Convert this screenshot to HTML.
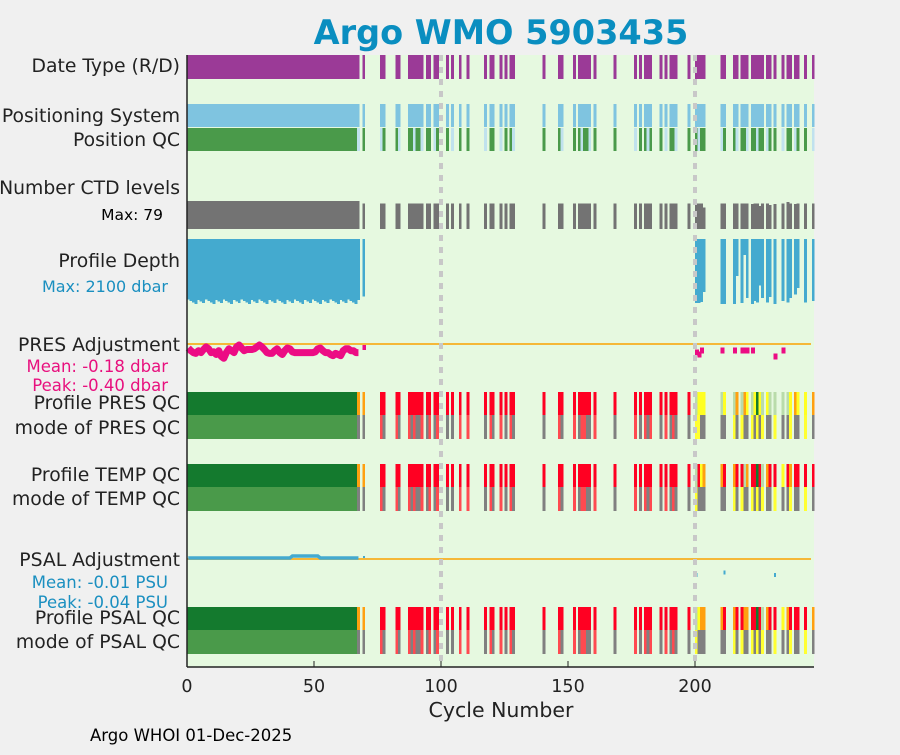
<!DOCTYPE html>
<html><head><meta charset="utf-8"><style>
body{margin:0;background:#f0f0f0;font-family:"Liberation Sans","DejaVu Sans",sans-serif}
svg text{font-family:"DejaVu Sans","Liberation Sans",sans-serif}
</style></head><body>
<svg id="c" width="900" height="750" xmlns="http://www.w3.org/2000/svg">
<rect x="0" y="0" width="900" height="750" fill="#f0f0f0"/>
<rect x="187" y="55" width="627" height="612" fill="#e6f9e0"/>
<g id="marks" shape-rendering="crispEdges"></g>
<g id="lines"></g>
<text x="501" y="44" text-anchor="middle" font-size="33.5" font-weight="bold" fill="#0a8ec0">Argo WMO 5903435</text>
<g font-size="18.8" fill="#222" text-anchor="end">
<text x="180" y="72">Date Type (R/D)</text>
<text x="180" y="122">Positioning System</text>
<text x="180" y="146">Position QC</text>
<text x="180" y="194">Number CTD levels</text>
<text x="163" y="220" font-size="15.5" fill="#000">Max: 79</text>
<text x="180" y="267">Profile Depth</text>
<text x="168" y="292" font-size="16" fill="#1a8fc0">Max: 2100 dbar</text>
<text x="180" y="351">PRES Adjustment</text>
<text x="168" y="372" font-size="16.5" fill="#e8107e">Mean: -0.18 dbar</text>
<text x="168" y="391" font-size="16.5" fill="#e8107e">Peak: -0.40 dbar</text>
<text x="180" y="409">Profile PRES QC</text>
<text x="180" y="434">mode of PRES QC</text>
<text x="180" y="481">Profile TEMP QC</text>
<text x="180" y="505">mode of TEMP QC</text>
<text x="180" y="566">PSAL Adjustment</text>
<text x="168" y="588" font-size="16.5" fill="#1a8fc0">Mean: -0.01 PSU</text>
<text x="168" y="608" font-size="16.5" fill="#1a8fc0">Peak: -0.04 PSU</text>
<text x="180" y="624">Profile PSAL QC</text>
<text x="180" y="648">mode of PSAL QC</text>
</g>
<line x1="187" y1="55" x2="187" y2="667" stroke="#222" stroke-width="1.5"/>
<line x1="187" y1="667" x2="814" y2="667" stroke="#222" stroke-width="1.5"/>
<g id="xticks"></g>
<text x="501" y="717" text-anchor="middle" font-size="20.5" fill="#222">Cycle Number</text>
<text x="90" y="741" font-size="16.5" fill="#000">Argo WHOI 01-Dec-2025</text>
</svg>
<script>
const extraCycles=[69,76,77,82,83,87,88,89,90,91,92,94,95,97,98,102,104,107,110,117,119,120,123,125,127,128,140,146,147,152,154,155,156,157,158,160,168,176,178,180,181,182,186,188,190,191,192,197,200,201,202,203,210,211,215,216,218,219,220,222,223,224,225,226,228,229,231,234,236,237,239,240,243,246];
const presQC ="DFFFFFFFFFFFFFFFFFFFFFFFFFFFFFFFFFFFFFFFFFFFFFFF"+"BCCCBCBDBDCBCACBCBBBBCDCCD";
const presMode="94949494994949499449494949949494499494949494949"+"9"+"33999939399393939939939939";
const tempQC ="DFFFFFFFFFFFFFFFFFFFFFFFFFFFFFFFFFFFFFFFFFFFFFFF"+"BFCDDFDFFBDFFAFBDFFCFDFFFF";
const tempMode="94949494994949499449494949949494499494949494949"+"9"+"39999939399393939939939939";
const psalQC ="DFFFFFFFFFFFFFFFFFFFFFFFFFFFFFFFFFFFFFFFFFFFFFFF"+"BCDDDFDFFDDFFAFBDFFCDFFFFD";
const psalMode="94949494994949499449494949949494499494949494949"+"9"+"39999939399393939939939939";
const depthCycles=[69,200,201,202,203,210,211,215,216,218,219,220,222,223,224,225,226,228,229,231,234,236,237,239,240,243,246];
const depthVals=[1850,2070,2070,2040,1710,2100,2100,2100,1200,2070,520,1900,2100,2000,2050,1500,1900,2050,1880,2100,2000,2050,1900,1800,1580,2050,2000];
const ctdLate=[72,72,72,60,72,72,72,72,72,72,72,70,72,72,65,72,72,68,70,72,76,72,70,72,72,72,72];
const presAdj=[-0.08,-0.15,-0.2,-0.22,-0.15,-0.2,-0.12,-0.05,-0.1,-0.2,-0.18,-0.25,-0.15,-0.3,-0.35,-0.2,-0.1,-0.15,-0.2,-0.05,0.0,-0.08,-0.15,-0.12,-0.12,-0.12,-0.1,-0.05,0.0,-0.05,-0.12,-0.2,-0.22,-0.22,-0.15,-0.1,-0.2,-0.25,-0.15,-0.08,-0.1,-0.18,-0.2,-0.2,-0.2,-0.2,-0.2,-0.2,-0.2,-0.2,-0.18,-0.1,-0.08,-0.15,-0.2,-0.2,-0.25,-0.28,-0.22,-0.25,-0.28,-0.15,-0.1,-0.1,-0.15,-0.15,-0.2,-0.2];
const presLateCycles=[69,200,201,202,210,215,218,219,220,222,231,234];
const presLateVals=[-0.05,-0.2,-0.25,-0.15,-0.15,-0.15,-0.15,-0.15,-0.15,-0.15,-0.3,-0.15];
const psalLateCycles=[69,200,211,231];
const psalLateVals=[0.0,-0.04,-0.035,-0.04];
const xTicks=[0,50,100,150,200];

const NS="http://www.w3.org/2000/svg";
const g=document.getElementById('marks');
const gl=document.getElementById('lines');
const X=c=>187+2.54*c;
const W=2.9;
function rect(x,y,w,h,fill,name){const r=document.createElementNS(NS,'rect');
r.setAttribute('x',x);r.setAttribute('y',y);r.setAttribute('width',w);r.setAttribute('height',h);r.setAttribute('fill',fill);


g.appendChild(r);return r;}
const qcCol={A:'#147a2e',B:'#b9dcaa',C:'#ffff22',D:'#ffa010',E:'#ffa010',F:'#ff0022'};
const modeCol={'1':'#4a9a4a','3':'#ffff30','4':'#ff4a50','9':'#808080'};
const firstBlock=[];for(let c=0;c<67;c++)firstBlock.push(c);
const blockW=X(67)-X(0);
rect(X(0),55,X(68)-X(0),24,'#9b3a97','date-type-block');
rect(X(0),104,X(68)-X(0),23,'#7fc4e0','positioning-block');
rect(X(0),128,blockW,23,'#4a9a4a','position-qc-block');
rect(X(67),128,W,23,'#c0e2ee','position-qc-bar');
rect(X(0),201,X(68)-X(0),28,'#737373','ctd-block');
rect(X(0),392,blockW,23,'#147a2e','pres-qc-block');rect(X(0),415,blockW,24,'#4a9a4a','pres-mode-block');
rect(X(0),464,blockW,23,'#147a2e','temp-qc-block');rect(X(0),487,blockW,24,'#4a9a4a','temp-mode-block');
rect(X(0),607,blockW,23,'#147a2e','psal-qc-block');rect(X(0),630,blockW,24,'#4a9a4a','psal-mode-block');
rect(X(67),392,W,23,'#ffa010','pres-qc-bar');rect(X(67),415,W,24,'#808080','pres-mode-bar');
rect(X(67),464,W,23,'#ffa010','temp-qc-bar');rect(X(67),487,W,24,'#808080','temp-mode-bar');
rect(X(67),607,W,23,'#ffa010','psal-qc-bar');rect(X(67),630,W,24,'#808080','psal-mode-bar');
rect(X(0),239,X(68)-X(0),58,'#44aacf','depth-block');
for(let c=0;c<68;c++){
  const d=1950+((c*37)%7)*25;
  rect(X(c),239,W,d/2100*65,'#44aacf','depth-bar');
}
extraCycles.forEach((c,i)=>{
  rect(X(c),55,W,24,'#9b3a97','date-type-bar');
  rect(X(c),104,W,23,'#7fc4e0','positioning-bar');
  rect(X(c),128,W,23,i%3==1?'#c0e2ee':'#4a9a4a','position-qc-bar');
  const n=c>=200?ctdLate[i-48]:72;
  rect(X(c),229-n/79*28,W,n/79*28,'#737373','ctd-bar');
  rect(X(c),392,W,23,qcCol[presQC[i]],'pres-qc-bar');rect(X(c),415,W,24,modeCol[presMode[i]],'pres-mode-bar');
  rect(X(c),464,W,23,qcCol[tempQC[i]],'temp-qc-bar');rect(X(c),487,W,24,modeCol[tempMode[i]],'temp-mode-bar');
  rect(X(c),607,W,23,qcCol[psalQC[i]],'psal-qc-bar');rect(X(c),630,W,24,modeCol[psalMode[i]],'psal-mode-bar');
});
depthCycles.forEach((c,i)=>rect(X(c),239,W,depthVals[i]/2100*65,'#44aacf','depth-bar'));
function line(x1,y1,x2,y2,stroke,sw,name,dash){const l=document.createElementNS(NS,'line');
l.setAttribute('x1',x1);l.setAttribute('y1',y1);l.setAttribute('x2',x2);l.setAttribute('y2',y2);
l.setAttribute('stroke',stroke);l.setAttribute('stroke-width',sw);if(dash)l.setAttribute('stroke-dasharray',dash);


gl.appendChild(l);}
line(187,344,811,344,'#f5b838',2,'pres-zero-line');
line(187,559,811,559,'#f5b838',2,'psal-zero-line');
const YP=v=>345-v*38, YS=v=>558-v*420;
const pl=document.createElementNS(NS,'polyline');
pl.setAttribute('points',presAdj.map((v,c)=>X(c+0.5)+','+YP(v)).join(' '));
pl.setAttribute('fill','none');pl.setAttribute('stroke','#ec0c84');pl.setAttribute('stroke-width','7');pl.setAttribute('stroke-linejoin','round');


gl.appendChild(pl);
presLateCycles.forEach((c,i)=>rect(X(c),YP(presLateVals[i])-3,W+1,6,'#ec0c84','pres-adjustment-point'));
const ps=document.createElementNS(NS,'polyline');
ps.setAttribute('points',presAdj.map((v,c)=>X(c+0.5)+','+(YS(0)+(c>40&&c<52?-2:0))).join(' '));
ps.setAttribute('fill','none');ps.setAttribute('stroke','#44aacf');ps.setAttribute('stroke-width','3.5');


gl.appendChild(ps);
psalLateCycles.forEach((c,i)=>rect(X(c)+0.5,YS(psalLateVals[i])-2,2,4,'#44aacf','psal-adjustment-point'));
line(X(100),55,X(100),667,'#c8c8c8',4,'cycle-100-marker','6 6');
line(X(200),55,X(200),667,'#c8c8c8',4,'cycle-200-marker','6 6');
const xt=document.getElementById('xticks');
xTicks.forEach(t=>{const tx=document.createElementNS(NS,'text');
tx.setAttribute('x',X(t));tx.setAttribute('y',692);tx.setAttribute('text-anchor','middle');tx.setAttribute('font-size','17.5');tx.setAttribute('fill','#222');
tx.textContent=t;


xt.appendChild(tx);
const tk=document.createElementNS(NS,'line');tk.setAttribute('x1',X(t));tk.setAttribute('x2',X(t));tk.setAttribute('y1',661);tk.setAttribute('y2',667);tk.setAttribute('stroke','#222');


xt.appendChild(tk);});
</script>
</body></html>
